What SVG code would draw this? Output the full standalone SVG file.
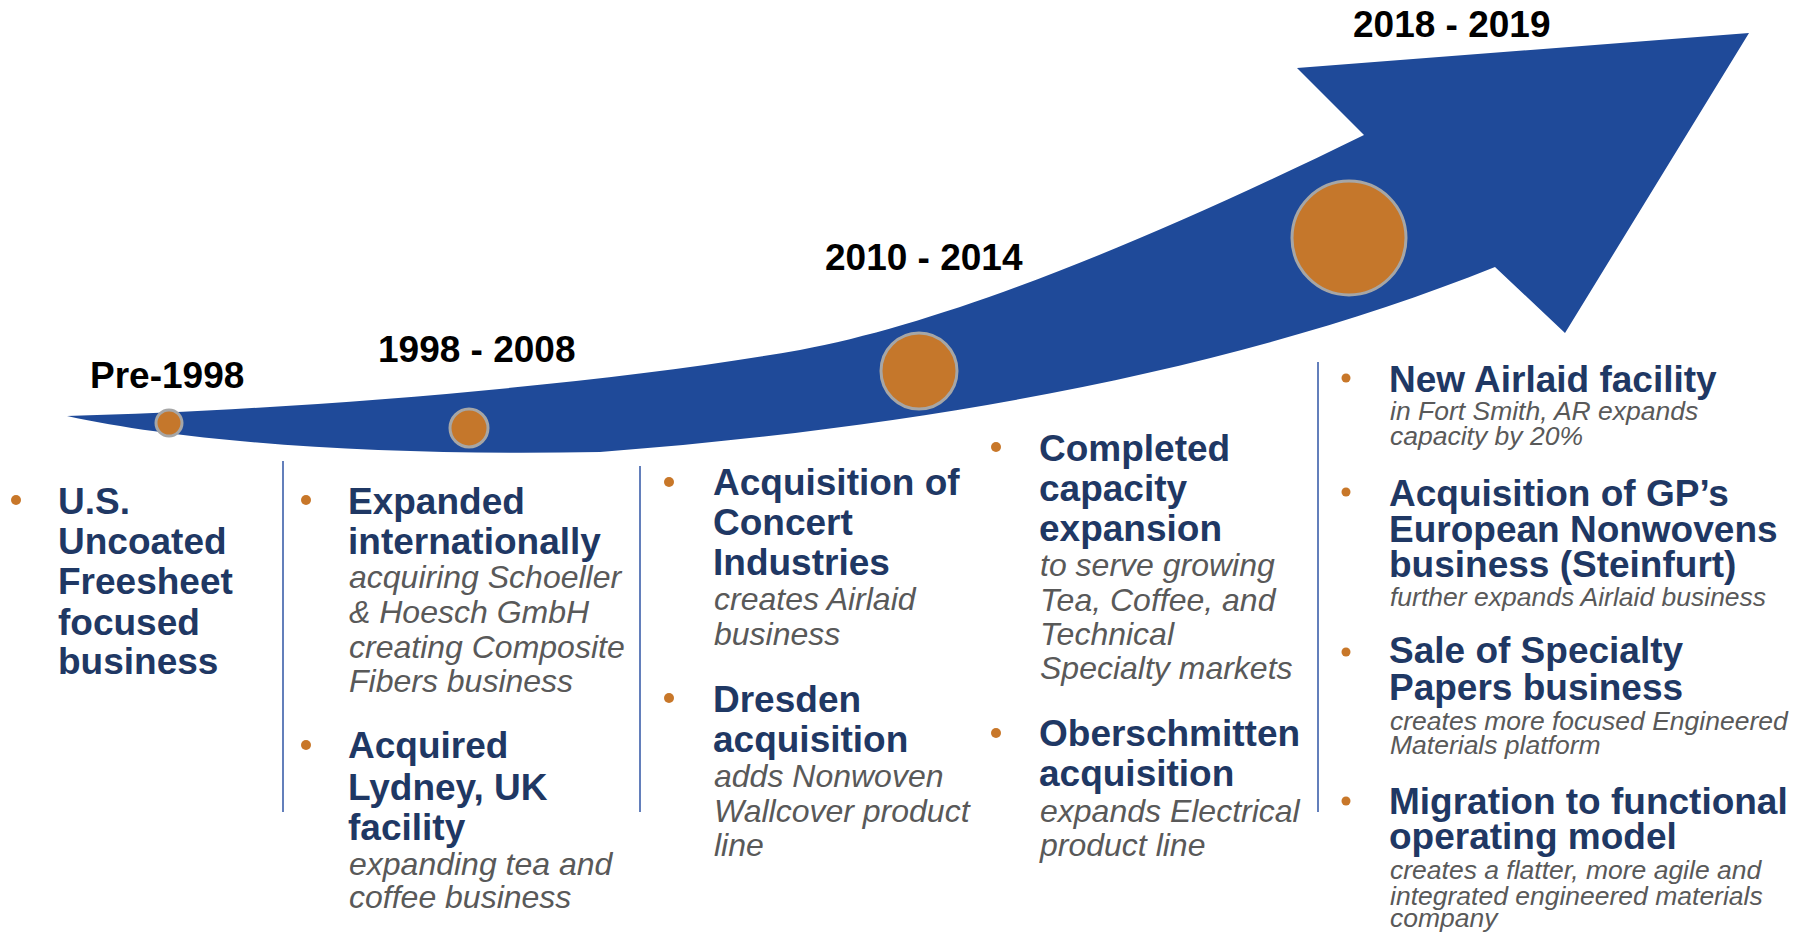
<svg xmlns="http://www.w3.org/2000/svg" width="1806" height="934" viewBox="0 0 1806 934">
<style>
.yr{font-family:"Liberation Sans",Arial,sans-serif;font-weight:bold;font-size:37px;fill:#000}
.h{font-family:"Liberation Sans",Arial,sans-serif;font-weight:bold;font-size:37px;fill:#1F3864}
.d{font-family:"Liberation Sans",Arial,sans-serif;font-style:italic;font-size:32px;fill:#595959}
.d5{font-family:"Liberation Sans",Arial,sans-serif;font-style:italic;font-size:26.5px;fill:#595959}
.b{fill:#C87729}
.m{fill:#C5772B;stroke:#A6A6A6;stroke-width:3}
.div{stroke:#2F55A4;stroke-width:1.5;fill:none}
</style>
<rect width="1806" height="934" fill="#fff"/>
<g id="arrow">
<path fill="#1F4A99" d="M67,416 C300,410 600,385 800,350 C950,322 1150,240 1364,135 L1297,68 L1749,33 L1565,333 L1495,267 C1250,365 950,425 600,452 C400,456 200,445 67,416 Z"/>
</g>
<g id="milestone-pre1998">
<circle class="m" cx="169" cy="423" r="13"/>
<text class="yr" x="90" y="388">Pre-1998</text>
</g>
<g id="milestone-1998-2008">
<circle class="m" cx="469" cy="428" r="19"/>
<text class="yr" x="378" y="362">1998 - 2008</text>
</g>
<g id="milestone-2010-2014">
<circle class="m" cx="919" cy="371" r="38"/>
<text class="yr" x="825" y="270">2010 - 2014</text>
</g>
<g id="milestone-2018-2019">
<circle class="m" cx="1349" cy="238" r="57"/>
<text class="yr" x="1353" y="37">2018 - 2019</text>
</g>
<g id="connectors">
<line class="div" x1="283" y1="461" x2="283" y2="812"/>
<line class="div" x1="640" y1="466" x2="640" y2="812"/>
<line class="div" x1="1318" y1="362" x2="1318" y2="812"/>
</g>
<g id="col1">
<circle class="b" cx="16" cy="500" r="5"/>
<text class="h"><tspan x="58" y="514">U.S.</tspan><tspan x="58" y="554">Uncoated</tspan><tspan x="58" y="594">Freesheet</tspan><tspan x="58" y="635">focused</tspan><tspan x="58" y="674">business</tspan></text>
</g>
<g id="col2">
<circle class="b" cx="306" cy="500" r="5"/>
<text class="h"><tspan x="348" y="514">Expanded</tspan><tspan x="348" y="554">internationally</tspan></text>
<text class="d"><tspan x="349" y="588">acquiring Schoeller</tspan><tspan x="349" y="623">&amp; Hoesch GmbH</tspan><tspan x="349" y="658">creating Composite</tspan><tspan x="349" y="692">Fibers business</tspan></text>
<circle class="b" cx="306" cy="745" r="5"/>
<text class="h"><tspan x="348" y="758">Acquired</tspan><tspan x="348" y="800">Lydney, UK</tspan><tspan x="348" y="840">facility</tspan></text>
<text class="d"><tspan x="349" y="875">expanding tea and</tspan><tspan x="349" y="908">coffee business</tspan></text>
</g>
<g id="col3">
<circle class="b" cx="669" cy="482" r="5"/>
<text class="h"><tspan x="713" y="495">Acquisition of</tspan><tspan x="713" y="535">Concert</tspan><tspan x="713" y="575">Industries</tspan></text>
<text class="d"><tspan x="714" y="610">creates Airlaid</tspan><tspan x="714" y="645">business</tspan></text>
<circle class="b" cx="669" cy="698" r="5"/>
<text class="h"><tspan x="713" y="712">Dresden</tspan><tspan x="713" y="752">acquisition</tspan></text>
<text class="d"><tspan x="714" y="787">adds Nonwoven</tspan><tspan x="714" y="822">Wallcover product</tspan><tspan x="714" y="856">line</tspan></text>
</g>
<g id="col4">
<circle class="b" cx="996" cy="447" r="5"/>
<text class="h"><tspan x="1039" y="461">Completed</tspan><tspan x="1039" y="501">capacity</tspan><tspan x="1039" y="541">expansion</tspan></text>
<text class="d"><tspan x="1040" y="576">to serve growing</tspan><tspan x="1040" y="611">Tea, Coffee, and</tspan><tspan x="1040" y="645">Technical</tspan><tspan x="1040" y="679">Specialty markets</tspan></text>
<circle class="b" cx="996" cy="733" r="5"/>
<text class="h"><tspan x="1039" y="746">Oberschmitten</tspan><tspan x="1039" y="786">acquisition</tspan></text>
<text class="d"><tspan x="1040" y="822">expands Electrical</tspan><tspan x="1040" y="856">product line</tspan></text>
</g>
<g id="col5">
<circle class="b" cx="1346" cy="378" r="4.5"/>
<text class="h"><tspan x="1389" y="392">New Airlaid facility</tspan></text>
<text class="d5"><tspan x="1390" y="420">in Fort Smith, AR expands</tspan><tspan x="1390" y="445">capacity by 20%</tspan></text>
<circle class="b" cx="1346" cy="492" r="4.5"/>
<text class="h"><tspan x="1389" y="506">Acquisition of GP’s</tspan><tspan x="1389" y="542">European Nonwovens</tspan><tspan x="1389" y="577">business (Steinfurt)</tspan></text>
<text class="d5"><tspan x="1390" y="606">further expands Airlaid business</tspan></text>
<circle class="b" cx="1346" cy="652" r="4.5"/>
<text class="h"><tspan x="1389" y="663">Sale of Specialty</tspan><tspan x="1389" y="700">Papers business</tspan></text>
<text class="d5"><tspan x="1390" y="730">creates more focused Engineered</tspan><tspan x="1390" y="754">Materials platform</tspan></text>
<circle class="b" cx="1346" cy="801" r="4.5"/>
<text class="h"><tspan x="1389" y="814">Migration to functional</tspan><tspan x="1389" y="849">operating model</tspan></text>
<text class="d5"><tspan x="1390" y="879">creates a flatter, more agile and</tspan><tspan x="1390" y="905">integrated engineered materials</tspan><tspan x="1390" y="927">company</tspan></text>
</g>
</svg>
